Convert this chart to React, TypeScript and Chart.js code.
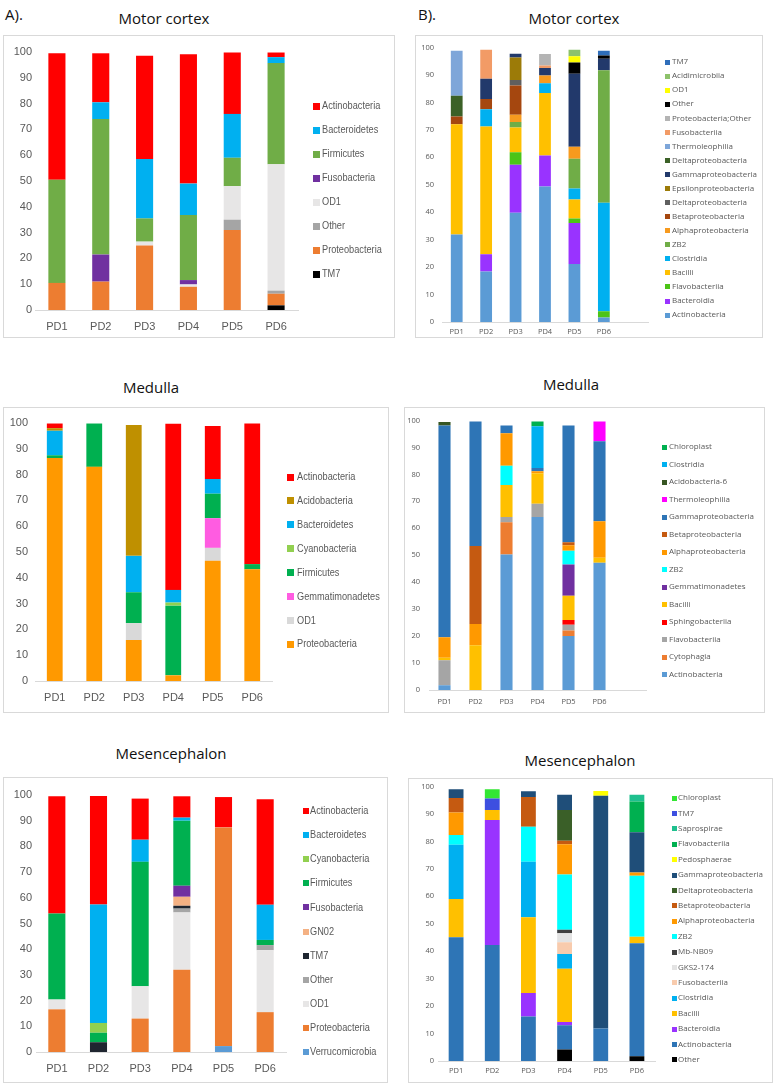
import React, { useEffect, useRef } from 'react';
import { Chart, registerables } from 'chart.js';

Chart.register(...registerables);

// ---------------- categories ----------------
const samples = ['PD1', 'PD2', 'PD3', 'PD4', 'PD5', 'PD6'];
const samplesWithBlank = ['PD1', 'PD2', 'PD3', 'PD4', 'PD5', 'PD6', ''];
const yTicks = [0, 10, 20, 30, 40, 50, 60, 70, 80, 90, 100];

// ---------------- A) Motor cortex — phylum (stack order bottom → top) ----------------
const motorPhylumTaxa = ['TM7', 'Proteobacteria', 'Other', 'OD1', 'Fusobacteria', 'Firmicutes', 'Bacteroidetes', 'Actinobacteria'];
const motorPhylumValues = [
  [0, 0, 0, 0, 0, 1.8],
  [10.5, 11, 25, 9, 31, 4.5],
  [0, 0, 0, 0, 4, 1.2],
  [0, 0, 1.5, 0.9, 13, 49],
  [0, 10.5, 0, 1.7, 0, 0],
  [40, 52.5, 9, 25.2, 11, 39.2],
  [0, 6.5, 23, 12.2, 17, 2.3],
  [49, 19, 40, 50.1, 23.8, 1.8],
];
const motorPhylumColors = ['#000000', '#ED7D31', '#A5A5A5', '#E7E6E6', '#7030A0', '#70AD47', '#00B0F0', '#FF0000'];

// ---------------- A) Medulla — phylum ----------------
const medullaPhylumTaxa = ['Proteobacteria', 'OD1', 'Gemmatimonadetes', 'Firmicutes', 'Cyanobacteria', 'Bacteroidetes', 'Acidobacteria', 'Actinobacteria'];
const medullaPhylumValues = [
  [86.4, 83, 15.9, 2.2, 46.6, 43.3],
  [0, 0, 6.5, 0, 5, 0],
  [0, 0, 0, 0, 11.5, 0],
  [1.1, 16.8, 12, 27, 9.5, 2],
  [0, 0, 0, 1.2, 0, 0],
  [9.5, 0, 14.1, 4.9, 5.7, 0],
  [1, 0, 50.7, 0, 0, 0],
  [1.8, 0, 0, 64.4, 20.5, 54.5],
];
const medullaPhylumColors = ['#FF9900', '#D9D9D9', '#FF5CE1', '#00B050', '#92D050', '#00B0F0', '#BF9000', '#FF0000'];

// ---------------- A) Mesencephalon — phylum ----------------
const mesPhylumTaxa = ['Verrucomicrobia', 'Proteobacteria', 'OD1', 'Other', 'TM7', 'GN02', 'Fusobacteria', 'Firmicutes', 'Cyanobacteria', 'Bacteroidetes', 'Actinobacteria'];
const mesPhylumValues = [
  [0, 0, 0, 0, 2.3, 0],
  [16.6, 0, 13, 32, 85.1, 15.5],
  [3.8, 0, 12.6, 22.3, 0, 24.1],
  [0, 0, 0, 1.5, 0, 2],
  [0, 3.8, 0, 1.1, 0, 0],
  [0, 0, 0, 3.5, 0, 0],
  [0, 0, 0, 4.3, 0, 0],
  [33.5, 3.7, 48.4, 25.3, 0, 2],
  [0, 3.8, 0, 0, 0, 0],
  [0, 46.1, 8.6, 1.2, 0, 13.7],
  [45.6, 42.2, 16, 8.3, 11.8, 41],
];
const mesPhylumColors = ['#5B9BD5', '#ED7D31', '#E7E6E6', '#A5A5A5', '#1F2630', '#F4B183', '#7030A0', '#00B050', '#92D050', '#00B0F0', '#FF0000'];

// ---------------- B) Motor cortex — class ----------------
const motorClassTaxa = [
  'Actinobacteria', 'Bacteroidia', 'Flavobacteriia', 'Bacilli', 'Clostridia', 'ZB2',
  'Alphaproteobacteria', 'Betaproteobacteria', 'Deltaproteobacteria', 'Epsilonproteobacteria',
  'Gammaproteobacteria', 'Deltaproteobacteria', 'Thermoleophilia', 'Fusobacteriia',
  'Proteobacteria;Other', 'Other', 'OD1', 'Acidimicrobiia', 'TM7',
];
const motorClassValues = [
  [31.9, 18.4, 39.8, 49.4, 21.1, 1.6],
  [0, 6.3, 17.5, 11.3, 15, 0],
  [0, 0, 4.5, 0, 1.6, 2.3],
  [40.1, 46.5, 9.1, 22.7, 6.9, 0],
  [0, 6.3, 0, 3.6, 4, 39.5],
  [0, 0, 2, 0, 10.9, 48.3],
  [0, 0, 2.6, 2.8, 4.3, 0],
  [2.9, 3.7, 10.7, 0, 0, 0],
  [0, 0, 2, 0, 0, 0],
  [0, 0, 8.2, 0, 0, 0],
  [0, 7.4, 1.3, 2.7, 26.6, 4.2],
  [7.5, 0, 0, 0, 0, 0],
  [16.4, 0, 0, 0, 0, 0],
  [0, 10.6, 0, 0.9, 0, 0],
  [0, 0, 0, 4.2, 0, 0],
  [0, 0, 0, 0, 4.1, 1.2],
  [0, 0, 0, 0, 2.3, 0],
  [0, 0, 0, 0, 2.4, 0],
  [0, 0, 0, 0, 0, 1.7],
];
const motorClassColors = [
  '#5B9BD5', '#9933FF', '#4CC417', '#FFC000', '#00B0F0', '#70AD47',
  '#F79A1E', '#A5470F', '#5F5F5F', '#9C7B08',
  '#22396B', '#3B6127', '#7EA6D9', '#F29B66',
  '#B4B4B4', '#000000', '#FFFF00', '#8DC26B', '#2F6EBA',
];

// ---------------- B) Medulla — class ----------------
const medullaClassTaxa = [
  'Actinobacteria', 'Cytophagia', 'Flavobacteriia', 'Sphingobacteriia', 'Bacilli', 'Gemmatimonadetes',
  'ZB2', 'Alphaproteobacteria', 'Betaproteobacteria', 'Gammaproteobacteria', 'Thermoleophilia',
  'Acidobacteria-6', 'Clostridia', 'Chloroplast',
];
const medullaClassValues = [
  [1.8, 0, 50.3, 64.2, 20, 47.2],
  [0, 0, 11.9, 0, 2.1, 0],
  [9.2, 0, 2, 4.9, 2.1, 0],
  [0, 0, 0, 0, 1.8, 0],
  [1, 16.6, 11.9, 11.3, 9, 1.9],
  [0, 0, 0, 0, 11.6, 0],
  [0, 0, 7.1, 0, 5.1, 0],
  [7.6, 7.9, 12.1, 0.8, 2, 13.5],
  [0, 28.9, 0, 0, 1.1, 0],
  [78.5, 46.2, 2.8, 1.2, 43.3, 29.7],
  [0, 0, 0, 0, 0, 7.3],
  [1.3, 0, 0, 0, 0, 0],
  [0, 0, 0, 15.5, 0, 0],
  [0, 0, 0, 1.7, 0, 0],
];
const medullaClassColors = [
  '#5B9BD5', '#ED7D31', '#A5A5A5', '#FF0000', '#FFC000', '#7030A0',
  '#00FFFF', '#FF9900', '#C55A11', '#2E75B6', '#FF00FF',
  '#375623', '#00B0F0', '#00B050',
];

// ---------------- B) Mesencephalon — class ----------------
const mesClassTaxa = [
  'Other', 'Actinobacteria', 'Bacteroidia', 'Bacilli', 'Clostridia', 'Fusobacteriia', 'GKS2-174',
  'Mb-NB09', 'ZB2', 'Alphaproteobacteria', 'Betaproteobacteria', 'Deltaproteobacteria',
  'Gammaproteobacteria', 'Pedosphaerae', 'Flavobacteriia', 'Saprospirae', 'TM7', 'Chloroplast',
];
const mesClassValues = [
  [0, 0, 0, 4.2, 0, 1.7],
  [45.1, 42.3, 16.2, 8.8, 11.8, 41.2],
  [0, 45.5, 8.6, 1.2, 0, 0],
  [13.9, 3.6, 27.6, 19.4, 0, 2.4],
  [19.8, 0, 20.2, 5.4, 0, 0],
  [0, 0, 0, 4.3, 0, 0],
  [0, 0, 0, 3.2, 0, 0],
  [0, 0, 0, 1.3, 0, 0],
  [3.5, 0, 12.7, 20.1, 0, 22.2],
  [8.2, 0, 0, 11.1, 0, 1.2],
  [5.3, 0, 10.9, 1.2, 0, 0],
  [0, 0, 0, 11.2, 0, 0],
  [3.2, 0, 2.1, 5.6, 84.8, 14.6],
  [0, 0, 0, 0, 1.8, 0],
  [0, 0, 0, 0, 0, 11.2],
  [0, 0, 0, 0, 0, 2.5],
  [0, 4.2, 0, 0, 0, 0],
  [0, 3.4, 0, 0, 0, 0],
];
const mesClassColors = [
  '#000000', '#2E75B6', '#9933FF', '#FFC000', '#00B0F0', '#F8CBAD', '#E3E3E3',
  '#404040', '#00FFFF', '#FF9900', '#C55A11', '#3A5F28',
  '#1F4E79', '#FFFF00', '#00B050', '#1FC08E', '#3D4FE0', '#33E633',
];

// ---------------- styling ----------------
const LIB = "'Liberation Sans', Arial, sans-serif";
const OPEN = "'Open Sans', 'DejaVu Sans', sans-serif";
const GREY_TEXT = '#595959';
const AXIS_LINE = '#D9D9D9';

const taxaLegend = {
  id: 'taxaLegend',
  afterDraw(chart: any, _args: any, o: any) {
    const ctx = chart.ctx;
    const ds = chart.data.datasets;
    ctx.save();
    ctx.font = `${o.size}px ${o.family}`;
    ctx.textAlign = 'left';
    ctx.textBaseline = 'middle';
    for (let k = 0; k < ds.length; k++) {
      const d = ds[ds.length - 1 - k];
      const y = o.y0 + k * o.step;
      ctx.fillStyle = d.backgroundColor;
      ctx.fillRect(o.boxX, Math.round(y - o.box / 2), o.box, o.box);
      ctx.fillStyle = o.color;
      ctx.save();
      ctx.translate(o.textX, y);
      ctx.scale(o.sx, 1);
      ctx.fillText(d.label, 0, 0);
      ctx.restore();
    }
    ctx.restore();
  },
};

type PanelSpec = {
  left: number; top: number; w: number; h: number;
  labels: string[]; taxa: string[]; values: number[][]; colors: string[];
  area: { l: number; r: number; t: number; b: number };
  yPad: number; xPad: number; family: string; tickSize: number;
  legend: { boxX: number; textX: number; y0: number; step: number; box: number; size: number; family: string; sx: number };
  barPct: number;
};

function StackedPanel({ p }: { p: PanelSpec }) {
  const ref = useRef<HTMLCanvasElement>(null);
  useEffect(() => {
    const canvas = ref.current;
    if (!canvas) return;
    const xH = p.h - p.area.b;
    const chart = new Chart(canvas, {
      type: 'bar',
      data: {
        labels: p.labels,
        datasets: p.taxa.map((t, i) => ({
          label: t,
          data: p.values[i],
          backgroundColor: p.colors[i],
          borderWidth: 0,
          barPercentage: p.barPct,
          categoryPercentage: 1,
        })),
      },
      options: {
        animation: false,
        responsive: false,
        events: [],
        layout: { padding: { left: 0, top: p.area.t, right: p.w - p.area.r, bottom: 0 } },
        plugins: {
          legend: { display: false },
          tooltip: { enabled: false },
          taxaLegend: { ...p.legend, color: GREY_TEXT },
        } as any,
        scales: {
          x: {
            stacked: true,
            offset: true,
            grid: { display: false, drawTicks: false },
            border: { display: true, color: AXIS_LINE, width: 1 },
            ticks: { color: GREY_TEXT, font: { family: p.family, size: p.tickSize }, padding: p.xPad, maxRotation: 0, autoSkip: false },
            afterFit: (s: any) => { s.height = xH; },
          },
          y: {
            stacked: true,
            min: 0,
            max: 100,
            grid: { display: false, drawTicks: false },
            border: { display: false },
            afterBuildTicks: (s: any) => { s.ticks = yTicks.map((v) => ({ value: v })); },
            ticks: { color: GREY_TEXT, font: { family: p.family, size: p.tickSize }, padding: p.yPad },
            afterFit: (s: any) => { s.width = p.area.l; },
          },
        },
      } as any,
      plugins: [taxaLegend as any],
    });
    return () => chart.destroy();
  }, [p]);
  return (
    <>
      <div style={{ position: 'absolute', left: p.left, top: p.top, width: p.w, height: p.h, border: '1px solid #D9D9D9', boxSizing: 'border-box', background: '#fff' }} />
      <canvas ref={ref} width={p.w} height={p.h} style={{ position: 'absolute', left: p.left, top: p.top, width: p.w, height: p.h }} />
    </>
  );
}

const panels: PanelSpec[] = [
  {
    left: 3, top: 35, w: 392, h: 303, labels: samples,
    taxa: motorPhylumTaxa, values: motorPhylumValues, colors: motorPhylumColors,
    area: { l: 32, r: 295, t: 17, b: 275 }, yPad: 3, xPad: 10.4, family: LIB, tickSize: 11,
    legend: { boxX: 310, textX: 319, y0: 71, step: 24, box: 7, size: 11.5, family: LIB, sx: 0.8 }, barPct: 0.39,
  },
  {
    left: 415, top: 35, w: 348, h: 303, labels: samplesWithBlank,
    taxa: motorClassTaxa, values: motorClassValues, colors: motorClassColors,
    area: { l: 27, r: 233, t: 10, b: 287 }, yPad: 8, xPad: 5.5, family: OPEN, tickSize: 7.5,
    legend: { boxX: 250, textX: 257, y0: 27, step: 14.06, box: 5, size: 8, family: OPEN, sx: 1 }, barPct: 0.4,
  },
  {
    left: 3, top: 407, w: 386, h: 306, labels: samples,
    taxa: medullaPhylumTaxa, values: medullaPhylumValues, colors: medullaPhylumColors,
    area: { l: 32, r: 269, t: 16, b: 274 }, yPad: 7, xPad: 10.4, family: LIB, tickSize: 11,
    legend: { boxX: 284, textX: 294, y0: 70, step: 23.9, box: 7, size: 11.5, family: LIB, sx: 0.8 }, barPct: 0.4,
  },
  {
    left: 404, top: 407, w: 361, h: 306, labels: samplesWithBlank,
    taxa: medullaClassTaxa, values: medullaClassValues, colors: medullaClassColors,
    area: { l: 25, r: 242, t: 11, b: 283 }, yPad: 9, xPad: 7.5, family: OPEN, tickSize: 7.5,
    legend: { boxX: 258, textX: 265, y0: 40, step: 17.5, box: 5, size: 8, family: OPEN, sx: 1 }, barPct: 0.39,
  },
  {
    left: 3, top: 777, w: 385, h: 306, labels: samples,
    taxa: mesPhylumTaxa, values: mesPhylumValues, colors: mesPhylumColors,
    area: { l: 33, r: 283, t: 18, b: 275 }, yPad: 4, xPad: 10.4, family: LIB, tickSize: 11,
    legend: { boxX: 300, textX: 307, y0: 34, step: 24.1, box: 6, size: 11.5, family: LIB, sx: 0.8 }, barPct: 0.41,
  },
  {
    left: 408, top: 778, w: 365, h: 305, labels: samples,
    taxa: mesClassTaxa, values: mesClassValues, colors: mesClassColors,
    area: { l: 30, r: 247, t: 8, b: 283 }, yPad: 4, xPad: 5.5, family: OPEN, tickSize: 7.5,
    legend: { boxX: 264, textX: 270, y0: 20, step: 15.4, box: 5, size: 8, family: OPEN, sx: 1 }, barPct: 0.41,
  },
];

const headings = [
  { text: 'A).', x: 5, y: 14, center: false },
  { text: 'B).', x: 418, y: 14, center: false },
  { text: 'Motor cortex', x: 164, y: 18, center: true },
  { text: 'Motor cortex', x: 574, y: 18, center: true },
  { text: 'Medulla', x: 151, y: 387, center: true },
  { text: 'Medulla', x: 571, y: 384, center: true },
  { text: 'Mesencephalon', x: 171, y: 753, center: true },
  { text: 'Mesencephalon', x: 580, y: 760, center: true },
];

export default function App() {
  return (
    <div style={{ position: 'absolute', left: 0, top: 0, width: 778, height: 1088, background: '#fff', overflow: 'hidden' }}>
      {headings.map((h, i) => (
        <div
          key={i}
          style={{
            position: 'absolute', left: h.x, top: h.y, whiteSpace: 'nowrap',
            transform: h.center ? 'translate(-50%, -50%)' : 'translate(0, -50%)',
            fontFamily: OPEN, fontSize: 15, color: '#111', lineHeight: 1,
          }}
        >
          {h.text}
        </div>
      ))}
      {panels.map((p, i) => (
        <StackedPanel key={i} p={p} />
      ))}
    </div>
  );
}
